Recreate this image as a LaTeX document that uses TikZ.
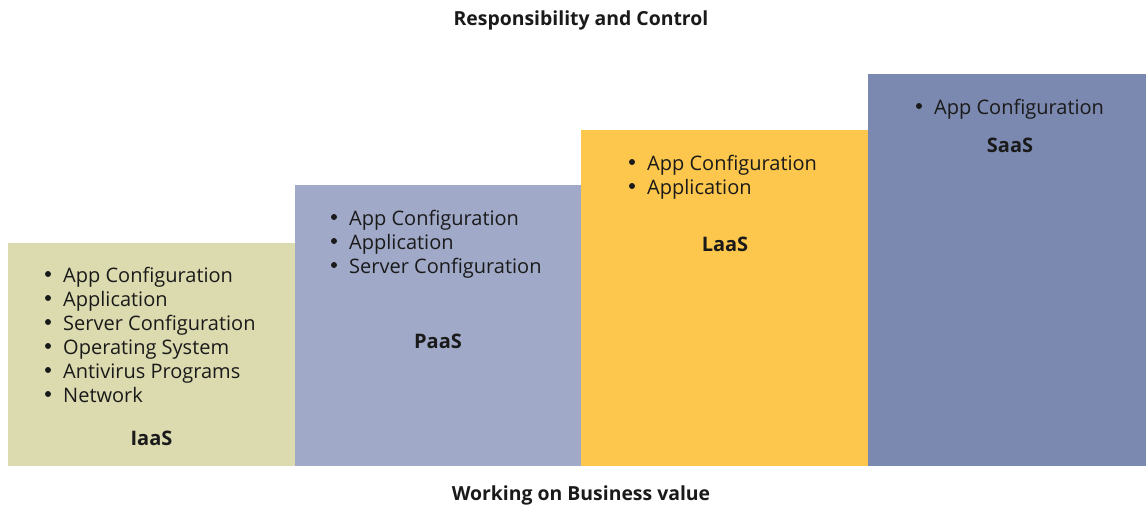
\documentclass[tikz,border=0pt]{standalone}
\usepackage{fontspec}
\setmainfont{Open Sans}
\definecolor{iaasfill}{HTML}{DCDBB0}
\definecolor{paasfill}{HTML}{A0AAC8}
\definecolor{laasfill}{HTML}{FCC74C}
\definecolor{saasfill}{HTML}{7B88AF}
\definecolor{ink}{HTML}{1A1A1A}
\tikzset{
  x=1pt, y=-1pt,
  tier/.style={anchor=south west, minimum width=287pt, inner sep=0pt, draw=none},
  item/.style={anchor=base west, inner sep=0pt, text=ink, font=\fontsize{20}{24}\selectfont},
  dot/.style={fill=ink},
  tiername/.style={anchor=base, inner sep=0pt, text=ink, font=\fontsize{20}{24}\selectfont\bfseries},
  caption/.style={anchor=base, inner sep=0pt, text=ink, font=\fontsize{19.4}{24}\selectfont\bfseries},
}
\begin{document}
\begin{tikzpicture}
\useasboundingbox (0,0) rectangle (1146,507);
\fill[white] (0,0) rectangle (1146,507);

% the four service tiers, as rising steps
\node[tier, fill=iaasfill, minimum height=223pt] (iaas) at (8,466) {};
\node[tier, fill=paasfill, minimum height=281pt] (paas) at (295,466) {};
\node[tier, fill=laasfill, minimum height=336pt] (laas) at (581,466) {};
\node[tier, fill=saasfill, minimum height=392pt, minimum width=278pt] (saas) at (868,466) {};

% IaaS
\foreach \t [count=\i] in {App Configuration, Application, Server Configuration,
    Operating System, Antivirus Programs, Network}{
  \node[item] (ia\i) at (63, 258+24*\i) {\t};
  \fill[dot] (48, 250+24*\i) circle (3pt);
}
\node[tiername] (iaasname) at (151.5,445) {IaaS};

% PaaS
\foreach \t [count=\i] in {App Configuration, Application, Server Configuration}{
  \node[item] (pa\i) at (349, 201+24*\i) {\t};
  \fill[dot] (334, 193+24*\i) circle (3pt);
}
\node[tiername] (paasname) at (438,348) {PaaS};

% LaaS
\foreach \t [count=\i] in {App Configuration, Application}{
  \node[item] (la\i) at (647, 146+24*\i) {\t};
  \fill[dot] (632, 138+24*\i) circle (3pt);
}
\node[tiername] (laasname) at (725,251) {LaaS};

% SaaS
\node[item] (sa1) at (934,114) {App Configuration};
\fill[dot] (919,106) circle (3pt);
\node[tiername] (saasname) at (1010,152) {SaaS};

% axis captions
\node[caption] (top) at (581,25) {Responsibility and Control};
\node[caption] (bottom) at (581,500) {Working on Business value};
\end{tikzpicture}
\end{document}
